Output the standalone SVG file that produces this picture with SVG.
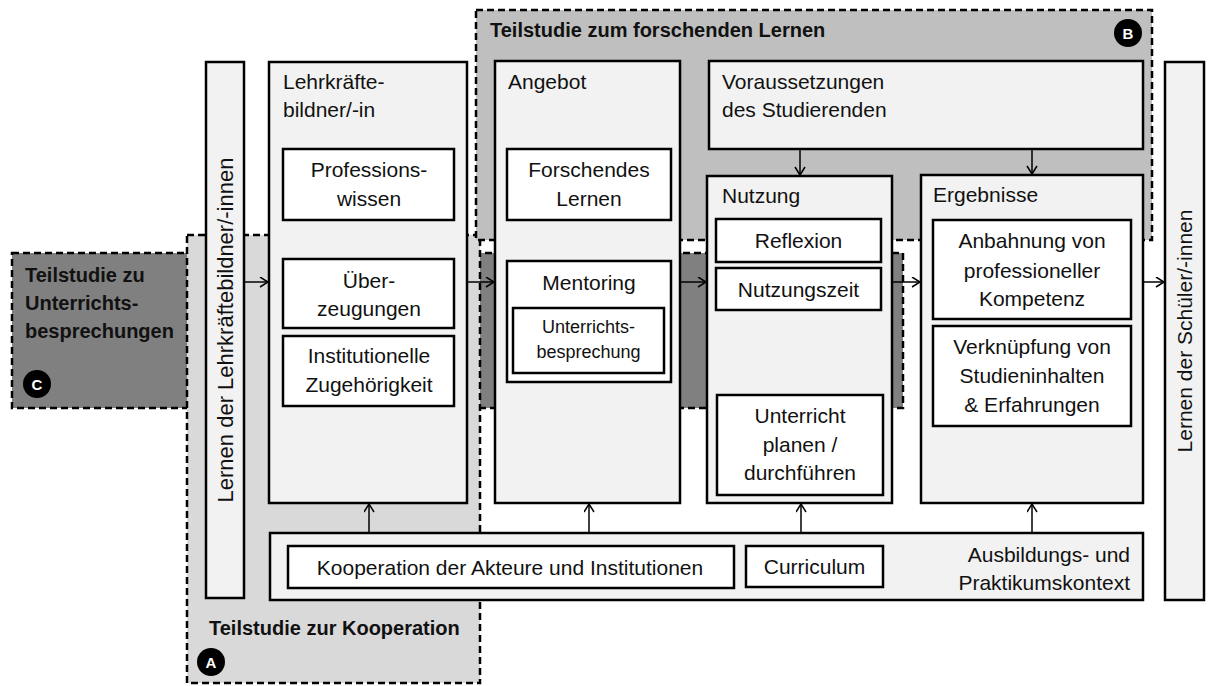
<svg xmlns="http://www.w3.org/2000/svg" width="1209" height="686" viewBox="0 0 1209 686">
  <defs>
    <marker id="arr" markerUnits="userSpaceOnUse" markerWidth="12" markerHeight="12" refX="9" refY="5.5" orient="auto">
      <path d="M1,0.5 L9,5.5 L1,10.5" fill="none" stroke="#000" stroke-width="1.5"/>
    </marker>
    <style>
      text { font-family: "Liberation Sans", Arial, sans-serif; fill: #111; }
      .t { font-size: 21px; }
      .c { font-size: 21px; text-anchor: middle; }
      .s { font-size: 18px; text-anchor: middle; }
      .b { font-size: 20px; font-weight: bold; }
      .v { font-size: 22px; text-anchor: middle; }
      .zone { stroke: #000; stroke-width: 2.5; stroke-dasharray: 7 4; }
      .outer { fill: #f2f2f2; stroke: #000; stroke-width: 2.5; }
      .inner { fill: #fff; stroke: #000; stroke-width: 2.5; }
      .badge { fill: #000; }
      .badge-t { font-size: 15px; font-weight: bold; fill: #fff; text-anchor: middle; }
      .link { stroke: #000; stroke-width: 1.5; fill: none; marker-end: url(#arr); }
    </style>
  </defs>

  <!-- study regions -->
  <g id="studie-c">
    <rect class="zone" x="12" y="253" width="891" height="155" fill="#808080"/>
    <text class="b" x="25" y="282">Teilstudie zu</text>
    <text class="b" x="25" y="310">Unterrichts-</text>
    <text class="b" x="25" y="338">besprechungen</text>
    <circle class="badge" cx="37" cy="384" r="14"/>
    <text class="badge-t" x="37" y="389.5">C</text>
  </g>
  <g id="studie-a">
    <rect class="zone" x="187" y="235" width="293" height="448" fill="#d9d9d9"/>
    <text class="b" x="209" y="635">Teilstudie zur Kooperation</text>
    <circle class="badge" cx="211" cy="662" r="14"/>
    <text class="badge-t" x="211" y="667.5">A</text>
  </g>
  <g id="studie-b">
    <rect class="zone" x="476" y="10" width="676" height="230" fill="#bfbfbf"/>
    <text class="b" x="490" y="37">Teilstudie zum forschenden Lernen</text>
    <circle class="badge" cx="1128" cy="33" r="14"/>
    <text class="badge-t" x="1128" y="38.5">B</text>
  </g>

  <!-- nodes -->
  <g id="lernen-lehrkraeftebildner">
    <rect class="outer" x="206" y="62" width="38" height="536"/>
    <text class="v" transform="translate(233,330) rotate(-90)">Lernen der Lehrkräftebildner/-innen</text>
  </g>

  <g id="lehrkraeftebildner">
    <rect class="outer" x="269" y="62" width="198" height="441"/>
    <text class="t" x="283" y="89">Lehrkräfte-</text>
    <text class="t" x="283" y="117">bildner/-in</text>
  </g>
  <g id="professionswissen">
    <rect class="inner" x="283" y="149" width="171" height="71"/>
    <text class="c" x="369" y="177">Professions-</text>
    <text class="c" x="369" y="206">wissen</text>
  </g>
  <g id="ueberzeugungen">
    <rect class="inner" x="283" y="259" width="171" height="69"/>
    <text class="c" x="369" y="288">Über-</text>
    <text class="c" x="369" y="316">zeugungen</text>
  </g>
  <g id="zugehoerigkeit">
    <rect class="inner" x="283" y="336" width="171" height="70"/>
    <text class="c" x="369" y="363">Institutionelle</text>
    <text class="c" x="369" y="392">Zugehörigkeit</text>
  </g>

  <g id="angebot">
    <rect class="outer" x="495" y="61" width="185" height="442"/>
    <text class="t" x="508" y="89">Angebot</text>
  </g>
  <g id="forschendes-lernen">
    <rect class="inner" x="507" y="149" width="164" height="71"/>
    <text class="c" x="589" y="177">Forschendes</text>
    <text class="c" x="589" y="206">Lernen</text>
  </g>
  <g id="mentoring">
    <rect class="inner" x="507" y="261" width="164" height="121"/>
    <text class="c" x="589" y="290">Mentoring</text>
  </g>
  <g id="unterrichtsbesprechung">
    <rect class="inner" x="513" y="308" width="151" height="65" stroke-width="3"/>
    <text class="s" x="588.5" y="333">Unterrichts-</text>
    <text class="s" x="588.5" y="358">besprechung</text>
  </g>

  <g id="voraussetzungen">
    <rect class="outer" x="709" y="61" width="434" height="88"/>
    <text class="t" x="722" y="89">Voraussetzungen</text>
    <text class="t" x="722" y="117">des Studierenden</text>
  </g>

  <g id="nutzung">
    <rect class="outer" x="707" y="176" width="185" height="327"/>
    <text class="t" x="722" y="203">Nutzung</text>
  </g>
  <g id="reflexion">
    <rect class="inner" x="716" y="219" width="165" height="43"/>
    <text class="c" x="798.5" y="248">Reflexion</text>
  </g>
  <g id="nutzungszeit">
    <rect class="inner" x="716" y="268" width="165" height="42"/>
    <text class="c" x="798.5" y="297">Nutzungszeit</text>
  </g>
  <g id="unterricht">
    <rect class="inner" x="717" y="395" width="166" height="100"/>
    <text class="c" x="800" y="423">Unterricht</text>
    <text class="c" x="800" y="452">planen /</text>
    <text class="c" x="800" y="480">durchführen</text>
  </g>

  <g id="ergebnisse">
    <rect class="outer" x="921" y="175" width="222" height="328"/>
    <text class="t" x="933" y="202">Ergebnisse</text>
  </g>
  <g id="kompetenz">
    <rect class="inner" x="933" y="220" width="198" height="99"/>
    <text class="c" x="1032" y="248">Anbahnung von</text>
    <text class="c" x="1032" y="278">professioneller</text>
    <text class="c" x="1032" y="306">Kompetenz</text>
  </g>
  <g id="verknuepfung">
    <rect class="inner" x="933" y="326" width="198" height="100"/>
    <text class="c" x="1032" y="354">Verknüpfung von</text>
    <text class="c" x="1032" y="383">Studieninhalten</text>
    <text class="c" x="1032" y="412">&amp; Erfahrungen</text>
  </g>

  <g id="kontext">
    <rect class="outer" x="270" y="533" width="873" height="67"/>
    <text class="t" x="1130" y="562" text-anchor="end">Ausbildungs- und</text>
    <text class="t" x="1130" y="590" text-anchor="end">Praktikumskontext</text>
  </g>
  <g id="kooperation">
    <rect class="inner" x="288" y="546" width="446" height="42"/>
    <text class="c" x="510" y="575">Kooperation der Akteure und Institutionen</text>
  </g>
  <g id="curriculum">
    <rect class="inner" x="746" y="546" width="137" height="41"/>
    <text class="c" x="814.5" y="574">Curriculum</text>
  </g>

  <g id="lernen-schueler">
    <rect class="outer" x="1165" y="62" width="39" height="538"/>
    <text class="c" transform="translate(1192,331) rotate(-90)">Lernen der Schüler/-innen</text>
  </g>

  <!-- connectors -->
  <g id="connectors">
    <line class="link" x1="244" y1="282" x2="268" y2="282"/>
    <line class="link" x1="467" y1="282" x2="494" y2="282"/>
    <line class="link" x1="680" y1="282" x2="706" y2="282"/>
    <line class="link" x1="892" y1="282" x2="920" y2="282"/>
    <line class="link" x1="1143" y1="282" x2="1164" y2="282"/>
    <line class="link" x1="800" y1="149" x2="800" y2="175"/>
    <line class="link" x1="1032" y1="149" x2="1032" y2="174"/>
    <line class="link" x1="369" y1="533" x2="369" y2="504"/>
    <line class="link" x1="589" y1="533" x2="589" y2="504"/>
    <line class="link" x1="801" y1="533" x2="801" y2="504"/>
    <line class="link" x1="1032" y1="533" x2="1032" y2="504"/>
  </g>
</svg>
